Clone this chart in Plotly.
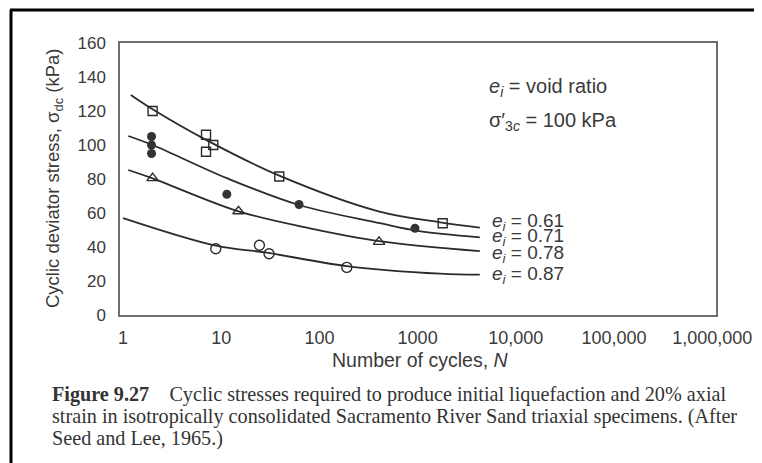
import plotly.graph_objects as go

# Leituras da figura (N em ciclos, tensão em kPa)
sq_N = [2, 7, 7, 8.3, 39, 1800]
sq_S = [120, 106, 96, 100, 81.5, 54]
dot_N = [1.95, 1.95, 1.95, 11.4, 62, 940]
dot_S = [105, 100, 95, 71, 65, 51]
tri_N = [2, 15, 405]
tri_S = [80.5, 61, 43]
circ_N = [8.8, 24.5, 30.7, 190]
circ_S = [39, 41, 36, 28]

# Curvas ajustadas (pontos lidos ao longo de cada linha)
c061_N = [1.2, 2, 7, 39, 400, 1700, 4300]
c061_S = [129.4, 121, 103, 82, 61, 54.5, 51.4]
c071_N = [1.13, 2, 11.4, 62, 414, 1000, 4300]
c071_S = [105.3, 100, 80.5, 64.7, 54, 49.5, 45.7]
c078_N = [1.13, 2, 15, 80, 405, 4300]
c078_S = [85.3, 80.4, 61, 51, 43.5, 37.6]
c087_N = [1.0, 8.8, 28, 190, 1700, 4300]
c087_S = [57, 40.8, 36.8, 28.8, 24.3, 23.7]

curve_labels = ["0.61", "0.71", "0.78", "0.87"]
x_ticks = [1, 10, 100, 1000, 10000, 100000, 1000000]
x_ticktext = ["1", "10", "100", "1000", "10,000", "100,000", "1,000,000"]
y_ticks = [0, 20, 40, 60, 80, 100, 120, 140, 160]

caption = [
    "<b>Figure 9.27</b>\u00a0\u00a0\u00a0\u00a0Cyclic stresses required to produce initial liquefaction and 20% axial",
    "strain in isotropically consolidated Sacramento River Sand triaxial specimens. (After",
    "Seed and Lee, 1965.)",
]

W, H = 762, 463
OFF = 8  # margem padrão do <body>
# área do gráfico na página: x 120-716, y 43-315
L, T = 120 - OFF, 43 - OFF
R, B = W - (716 - OFF), H - (315 - OFF)
PW, PH = W - L - R, H - T - B

INK = "#2b2b2b"
TXT = "#3a3a3a"
SANS = "Arial, Liberation Sans, sans-serif"
SERIF = "Times New Roman, Liberation Serif, serif"


def px(x):
    return (x - OFF - L) / PW


def py(y):
    return (H - B - (y - OFF)) / PH


fig = go.Figure()

# Linhas de tendência
for n, s in [(c061_N, c061_S), (c071_N, c071_S), (c078_N, c078_S), (c087_N, c087_S)]:
    fig.add_trace(go.Scatter(x=n, y=s, mode="lines", line=dict(color=INK, width=1.8, shape="spline"),
                             hoverinfo="skip", showlegend=False))

# Pontos de ensaio
fig.add_trace(go.Scatter(x=sq_N, y=sq_S, mode="markers", showlegend=False,
                         marker=dict(symbol="square-open", size=9, color=INK, line=dict(width=1.4))))
fig.add_trace(go.Scatter(x=dot_N, y=dot_S, mode="markers", showlegend=False,
                         marker=dict(symbol="circle", size=9, color="#333333")))
fig.add_trace(go.Scatter(x=tri_N, y=tri_S, mode="markers", showlegend=False,
                         marker=dict(symbol="triangle-up-open", size=10, color=INK, line=dict(width=1.4))))
fig.add_trace(go.Scatter(x=circ_N, y=circ_S, mode="markers", showlegend=False,
                         marker=dict(symbol="circle-open", size=10, color=INK, line=dict(width=1.4))))

annotations = []

# Rótulos das curvas
for lab, yc in zip(curve_labels, [222, 237, 254, 275]):
    annotations.append(dict(x=px(490), y=py(yc), xref="paper", yref="paper", xanchor="left", yanchor="middle",
                            text=f"<i>e</i><sub><i>i</i></sub> = {lab}", showarrow=False,
                            font=dict(family=SANS, size=19, color=TXT)))

annotations.append(dict(x=px(487), y=py(87), xref="paper", yref="paper", xanchor="left", yanchor="middle",
                        text="<i>e</i><sub><i>i</i></sub> = void ratio", showarrow=False,
                        font=dict(family=SANS, size=20, color=TXT)))
annotations.append(dict(x=px(487), y=py(122), xref="paper", yref="paper", xanchor="left", yanchor="middle",
                        text="σ′<sub>3<i>c</i></sub> = 100 kPa", showarrow=False,
                        font=dict(family=SANS, size=20, color=TXT)))

# Títulos dos eixos
annotations.append(dict(x=px(54), y=py(179), xref="paper", yref="paper", xanchor="center", yanchor="middle",
                        text="Cyclic deviator stress, σ<sub>dc</sub> (kPa)", textangle=-90, showarrow=False,
                        font=dict(family=SANS, size=18.5, color=TXT)))
annotations.append(dict(x=px(420), y=py(360), xref="paper", yref="paper", xanchor="center", yanchor="middle",
                        text="Number of cycles, <i>N</i>", showarrow=False,
                        font=dict(family=SANS, size=19.5, color=TXT)))

# Legenda da figura
for line, yc in zip(caption, [394, 416, 438]):
    annotations.append(dict(x=px(50), y=py(yc), xref="paper", yref="paper", xanchor="left", yanchor="middle",
                            text=line, showarrow=False, font=dict(family=SERIF, size=20.2, color="#333333")))

# Moldura preta da página (topo e esquerda)
shapes = [
    dict(type="line", xref="paper", yref="paper", x0=px(11), x1=px(11), y0=py(480), y1=py(10),
         line=dict(color="black", width=3)),
    dict(type="line", xref="paper", yref="paper", x0=px(10), x1=px(780), y0=py(10), y1=py(10),
         line=dict(color="black", width=3)),
]

fig.update_layout(
    width=W, height=H,
    margin=dict(l=L, r=R, t=T, b=B),
    paper_bgcolor="white", plot_bgcolor="white",
    showlegend=False,
    annotations=annotations,
    shapes=shapes,
    xaxis=dict(type="log", range=[-0.031, 6.039], tickvals=x_ticks, ticktext=x_ticktext,
               showgrid=False, zeroline=False, showline=True, mirror=True, linecolor="#6e6e6e", linewidth=1.5,
               ticks="", ticklabelstandoff=6, tickfont=dict(family=SANS, size=18, color=TXT)),
    yaxis=dict(range=[0, 160], tickvals=y_ticks, showgrid=False, zeroline=False,
               showline=True, mirror=True, linecolor="#6e6e6e", linewidth=1.5,
               ticks="", ticklabelstandoff=9, tickfont=dict(family=SANS, size=17, color=TXT)),
)

fig.write_html("out.html")
